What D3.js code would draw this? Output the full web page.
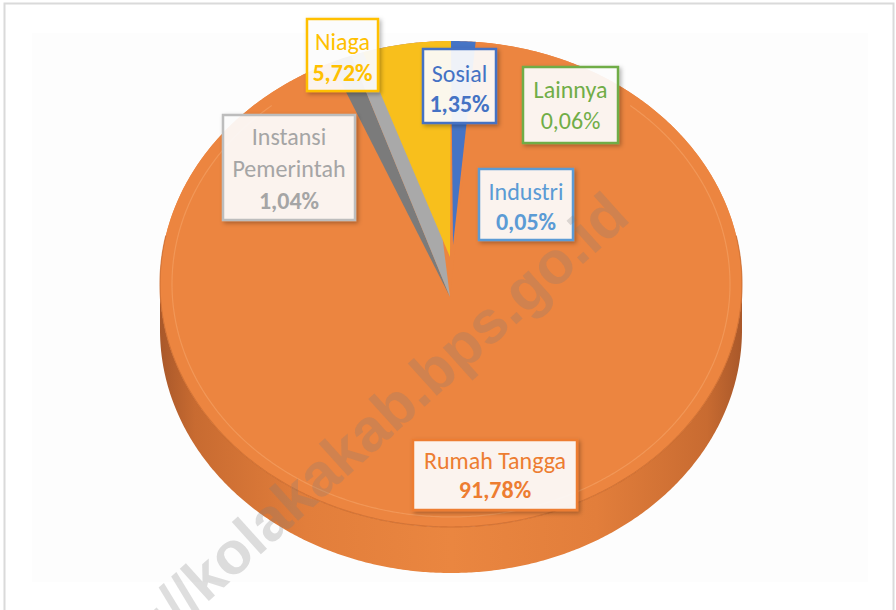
<!DOCTYPE html>
<html><head><meta charset="utf-8">
<script src="https://cdn.jsdelivr.net/npm/d3@7/dist/d3.min.js"></script>
<style>
html,body{margin:0;padding:0;background:#fff;}
svg{display:block;}
</style>
</head><body>
<script>
// ---- data ----
const categories = ["Sosial", "Lainnya", "Industri", "Rumah Tangga", "Instansi Pemerintah", "Niaga"];
const values = [1.35, 0.06, 0.05, 91.78, 1.04, 5.72];
const labelNames = [["Sosial"], ["Lainnya"], ["Industri"], ["Rumah Tangga"], ["Instansi", "Pemerintah"], ["Niaga"]];
const watermarkText = "https://kolakakab.bps.go.id";

// ---- style / layout ----
const W = 896, H = 610;
const geo = {cx: 451, cy: 284, rx: 291, ry: 243, depth: 46, vx: 450, vy: 297};
const deg = Math.PI / 180;
const sliceStyle = {
  "Sosial":              {fill: "#4674C5", text: "#4472C4", border: "#4472C4", vtx: [453, 245], inset: [0, 0], boldPct: true},
  "Lainnya":             {fill: "#70AD47", text: "#70AD47", border: "#70AD47", vtx: null, inset: [0, 0], boldPct: false, under: true},
  "Industri":            {fill: "#5B9BD5", text: "#5B9BD5", border: "#5B9BD5", vtx: null, inset: [0, 0], boldPct: true, under: true},
  "Rumah Tangga":        {fill: "#EC8540", text: "#ED7D31", border: "#ED7D31", vtx: null, inset: [0, 0], boldPct: true},
  "Instansi Pemerintah": {fill: "#A9A9A9", dark: "#7B7B7B", text: "#A5A5A5", border: "#BDBDBD", vtx: null, inset: [4.3, -14], boldPct: true},
  "Niaga":               {fill: "#F8BF1C", text: "#FFC000", border: "#FFC000", vtx: [450, 257], inset: [3, 0], boldPct: true}
};
// label boxes: x, y, w, h, first baseline offset, line step
const labelBoxes = {
  "Niaga": [307, 19, 71, 72, 31, 31],
  "Sosial": [423, 49, 73, 74, 33, 30],
  "Lainnya": [523, 67, 95, 76, 31, 31],
  "Industri": [479, 169, 94, 71, 31, 30],
  "Instansi Pemerintah": [223, 115, 132, 105, 30, 32],
  "Rumah Tangga": [413, 440, 164, 70, 29, 29]
};
const fontSize = 24;

const locale = d3.formatLocale({decimal: ",", thousands: ".", grouping: [3], currency: ["", ""]});
const fmt = locale.format(".2f");

const svg = d3.select("body").append("svg").attr("width", W).attr("height", H)
  .attr("font-family", "Carlito, Calibri, Lato, 'Open Sans', sans-serif");

const defs = svg.append("defs");
const sideGrad = defs.append("linearGradient").attr("id", "sideGrad")
  .attr("gradientUnits", "userSpaceOnUse")
  .attr("x1", geo.cx - geo.rx).attr("x2", geo.cx + geo.rx).attr("y1", 0).attr("y2", 0);
[[0, "#A9582A"], [0.06, "#C86B31"], [0.25, "#E27E3B"], [0.5, "#EA8640"], [0.75, "#E27E3B"], [0.94, "#C86B31"], [1, "#A9582A"]]
  .forEach(([o, c]) => sideGrad.append("stop").attr("offset", o).attr("stop-color", c));
const shadow = defs.append("filter").attr("id", "shadow").attr("x", "-20%").attr("y", "-20%").attr("width", "150%").attr("height", "150%");
shadow.append("feDropShadow").attr("dx", 2).attr("dy", 2).attr("stdDeviation", 2)
  .attr("flood-color", "#000").attr("flood-opacity", 0.3);

// frame
svg.append("rect").attr("x", 0).attr("y", 0).attr("width", W).attr("height", H).attr("fill", "#fff");
svg.append("rect").attr("x", 32).attr("y", 33).attr("width", 836).attr("height", 549).attr("fill", "#FDFDFD");
svg.append("rect").attr("x", 4.5).attr("y", 3.5).attr("width", 889).attr("height", 640)
  .attr("fill", "none").attr("stroke", "#DADADA").attr("stroke-width", 2);

// ---- geometry helpers ----
function rim(a, dy = 0, shrink = 0) {
  return [geo.cx + (geo.rx - shrink) * Math.sin(a), geo.cy - (geo.ry - shrink * 0.84) * Math.cos(a) + dy];
}
function arcPts(a0, a1, dy = 0, shrink = 0) {
  const n = Math.max(2, Math.ceil(Math.abs(a1 - a0) / (0.5 * deg)));
  return d3.range(n + 1).map(i => rim(a0 + (a1 - a0) * i / n, dy, shrink));
}
const line = d3.line();

const pie = d3.pie().sort(null).value(d => d.value).startAngle(0).endAngle(2 * Math.PI);
const arcs = pie(categories.map((c, i) => ({name: c, value: values[i], label: labelNames[i]})));
const byName = {};
arcs.forEach(a => byName[a.data.name] = a);

const g = svg.append("g");

// side wall (front half)
{
  const top = arcPts(Math.PI / 2, 3 * Math.PI / 2, 0);
  const bot = arcPts(3 * Math.PI / 2, Math.PI / 2, geo.depth);
  g.append("path").attr("d", line(top.concat(bot)) + "Z").attr("fill", "url(#sideGrad)");
}

// tiny slices lying beneath the main face
arcs.filter(a => sliceStyle[a.data.name].under).forEach(a => {
  const st = sliceStyle[a.data.name];
  const pts = [[geo.vx, geo.vy]].concat(arcPts(a.startAngle, a.endAngle));
  g.append("path").attr("d", line(pts) + "Z").attr("fill", st.fill);
});

// base top face (Rumah Tangga colour)
const rt = byName["Rumah Tangga"];
g.append("path").attr("d", line(arcPts(0, 2 * Math.PI)) + "Z").attr("fill", sliceStyle["Rumah Tangga"].fill);
g.append("path").attr("d", line([[geo.vx, geo.vy]].concat(arcPts(rt.startAngle, rt.endAngle))) + "Z")
  .attr("fill", sliceStyle["Rumah Tangga"].fill);
// front edge and bevel highlight
g.append("path").attr("d", line(arcPts(Math.PI / 2 - 0.2, 3 * Math.PI / 2 + 0.2)))
  .attr("fill", "none").attr("stroke", "#C86A2D").attr("stroke-width", 1.2).attr("opacity", 0.7);
g.append("path").attr("d", line(arcPts(40 * deg, 320 * deg, 0, 12)))
  .attr("fill", "none").attr("stroke", "#F6A56A").attr("stroke-width", 1.2).attr("opacity", 0.55);

// Instansi Pemerintah: cut face + top face
{
  const a = byName["Instansi Pemerintah"], st = sliceStyle["Instansi Pemerintah"];
  const a0 = a.startAngle, a0i = a.startAngle + st.inset[0] * deg, a1 = a.endAngle - st.inset[1] * deg;
  g.append("path").attr("d", line([[geo.vx, geo.vy]].concat(arcPts(a0, a0i))) + "Z").attr("fill", st.dark);
  g.append("path").attr("d", line([[geo.vx, geo.vy]].concat(arcPts(a0i, a1))) + "Z").attr("fill", st.fill);
}
// Niaga and Sosial (exploded)
["Niaga", "Sosial"].forEach(n => {
  const a = byName[n], st = sliceStyle[n];
  const pts = [st.vtx].concat(arcPts(a.startAngle + st.inset[0] * deg, a.endAngle - st.inset[1] * deg));
  g.append("path").attr("d", line(pts) + "Z").attr("fill", st.fill);
});

// ---- labels ----
const lg = svg.append("g");
arcs.forEach(a => {
  const n = a.data.name, st = sliceStyle[n], b = labelBoxes[n];
  const grp = lg.append("g");
  grp.append("rect").attr("x", b[0]).attr("y", b[1]).attr("width", b[2]).attr("height", b[3])
    .attr("fill", "#fff").attr("fill-opacity", 0.9)
    .attr("stroke", st.border).attr("stroke-width", 2.5).attr("filter", "url(#shadow)");
  const lines = a.data.label.map(t => ({t, bold: false})).concat([{t: fmt(a.data.value) + "%", bold: st.boldPct}]);
  lines.forEach((l, i) => {
    grp.append("text").attr("x", b[0] + b[2] / 2).attr("y", b[1] + b[4] + i * b[5])
      .attr("text-anchor", "middle").attr("font-size", fontSize)
      .attr("font-weight", l.bold ? 700 : 400).attr("fill", st.text).text(l.t);
  });
});

// watermark
svg.append("text").attr("transform", "translate(632,220) rotate(-42)")
  .attr("text-anchor", "end").attr("font-family", "'Liberation Sans', Arial, sans-serif")
  .attr("font-weight", 700).attr("font-size", 60).attr("fill", "#7A7A7A").attr("fill-opacity", 0.25)
  .text(watermarkText);
</script>
</body></html>
